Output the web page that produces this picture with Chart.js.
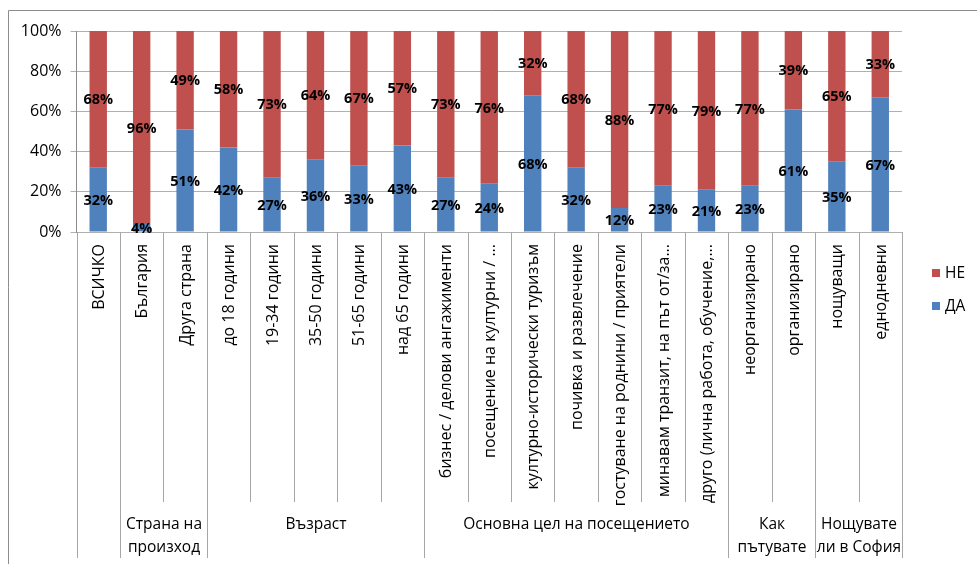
<!DOCTYPE html>
<html>
<head>
<meta charset="utf-8">
<script src="https://cdn.jsdelivr.net/npm/chart.js@4"></script>
<style>
  html, body { margin: 0; padding: 0; background: #fff; }
  #wrap { width: 977px; height: 564px; position: relative; }
</style>
</head>
<body>
<div id="wrap"><canvas id="chart"></canvas></div>
<script>
const categories = [
  "ВСИЧКО", "България", "Друга страна",
  "до 18 години", "19-34 години", "35-50 години", "51-65 години", "над 65 години",
  "бизнес / делови ангажименти", "посещение на културни / ...", "културно-исторически туризъм",
  "почивка и развлечение", "гостуване на роднини / приятели", "минавам транзит, на път от/за...",
  "друго (лична работа, обучение,...",
  "неорганизирано", "организирано",
  "нощуващи", "еднодневни"
];
const groupLabels = [[], ["Страна на", "произход"], ["Възраст"], ["Основна цел на посещението"], ["Как", "пътувате"], ["Нощувате", "ли в София"]];
const groupSizes = [1, 2, 5, 7, 2, 2];
const daValues = [32, 4, 51, 42, 27, 36, 33, 43, 27, 24, 68, 32, 12, 23, 21, 23, 61, 35, 67];
const neValues = [68, 96, 49, 58, 73, 64, 67, 57, 73, 76, 32, 68, 88, 77, 79, 77, 39, 65, 33];
const yTicks = [0, 20, 40, 60, 80, 100];

const FONT = "'Open Sans', 'DejaVu Sans', sans-serif";
const LINE = "#a6a6a6";

const dataLabels = {
  id: "dataLabels",
  afterDatasetsDraw(chart) {
    const ctx = chart.ctx;
    ctx.save();
    ctx.font = "bold 14.5px " + FONT;
    ctx.fillStyle = "#000";
    ctx.textAlign = "center";
    ctx.textBaseline = "middle";
    chart.data.datasets.forEach((ds, di) => {
      chart.getDatasetMeta(di).data.forEach((bar, i) => {
        const p = bar.getProps(["x", "y", "base"], true);
        ctx.fillText(ds.data[i] + "%", p.x, (p.y + p.base) / 2 + 1);
      });
    });
    ctx.restore();
  }
};

const categoryAxis = {
  id: "categoryAxis",
  beforeDraw(chart) {
    const ctx = chart.ctx;
    ctx.save();
    ctx.strokeStyle = "#8c8c8c";
    ctx.lineWidth = 1;
    ctx.beginPath();
    ctx.moveTo(8.5, 564);
    ctx.lineTo(8.5, 10.5);
    ctx.lineTo(977, 10.5);
    ctx.stroke();
    ctx.restore();
  },
  afterDraw(chart) {
    const ctx = chart.ctx;
    const xs = chart.scales.x;
    const area = chart.chartArea;
    const w = xs.getPixelForValue(1) - xs.getPixelForValue(0);
    const edge = i => Math.round(xs.getPixelForValue(i) - w / 2) + 0.5;
    const groupEdges = [0];
    groupSizes.forEach(s => groupEdges.push(groupEdges[groupEdges.length - 1] + s));
    ctx.save();
    ctx.strokeStyle = LINE;
    ctx.lineWidth = 1;
    for (let i = 0; i <= categories.length; i++) {
      const x = edge(i);
      const long = groupEdges.includes(i);
      ctx.beginPath();
      ctx.moveTo(x, area.bottom);
      ctx.lineTo(x, long ? 558 : 502);
      ctx.stroke();
    }
    ctx.fillStyle = "#000";
    ctx.font = "16px " + FONT;
    categories.forEach((c, i) => {
      ctx.save();
      ctx.translate(xs.getPixelForValue(i) + 1, area.bottom + 12);
      ctx.rotate(-Math.PI / 2);
      ctx.textAlign = "right";
      ctx.textBaseline = "middle";
      ctx.fillText(c, 0, 0);
      ctx.restore();
    });
    ctx.font = "15.5px " + FONT;
    ctx.textAlign = "center";
    ctx.textBaseline = "middle";
    groupLabels.forEach((lines, g) => {
      const cx = (edge(groupEdges[g]) + edge(groupEdges[g + 1])) / 2;
      lines.forEach((t, k) => ctx.fillText(t, cx, 525 + k * 23));
    });
    // legend, reversed like the original
    const legendY = [273, 306];
    [1, 0].forEach((di, k) => {
      const ds = chart.data.datasets[di];
      ctx.fillStyle = ds.backgroundColor;
      ctx.fillRect(932, legendY[k] - 4, 8, 8);
      ctx.fillStyle = "#000";
      ctx.textAlign = "left";
      ctx.fillText(ds.label, 945, legendY[k] + 1);
    });
    ctx.restore();
  }
};

new Chart(document.getElementById("chart"), {
  type: "bar",
  data: {
    labels: categories,
    datasets: [
      { label: "ДА", data: daValues, backgroundColor: "#4f81bd", barPercentage: 0.4, categoryPercentage: 1 },
      { label: "НЕ", data: neValues, backgroundColor: "#c0504d", barPercentage: 0.4, categoryPercentage: 1 }
    ]
  },
  options: {
    responsive: true,
    maintainAspectRatio: false,
    animation: false,
    devicePixelRatio: 1,
    layout: { padding: { top: 31, right: 75, left: 0, bottom: 0 } },
    plugins: { legend: { display: false }, tooltip: { enabled: false } },
    scales: {
      x: {
        stacked: true,
        grid: { display: false },
        border: { display: false },
        ticks: { display: false },
        afterFit(scale) { scale.height = 332; }
      },
      y: {
        stacked: true,
        min: 0,
        max: 100,
        afterBuildTicks(scale) { scale.ticks = yTicks.map(v => ({ value: v })); },
        ticks: {
          callback: v => v + "%",
          font: { family: FONT, size: 16 },
          color: "#000",
          padding: 9
        },
        grid: { color: "#b0b0b0", tickLength: 6, tickColor: "#b0b0b0" },
        border: { color: "#8c8c8c" },
        afterFit(scale) { scale.width = 76.5; }
      }
    }
  },
  plugins: [dataLabels, categoryAxis]
});
</script>
</body>
</html>
